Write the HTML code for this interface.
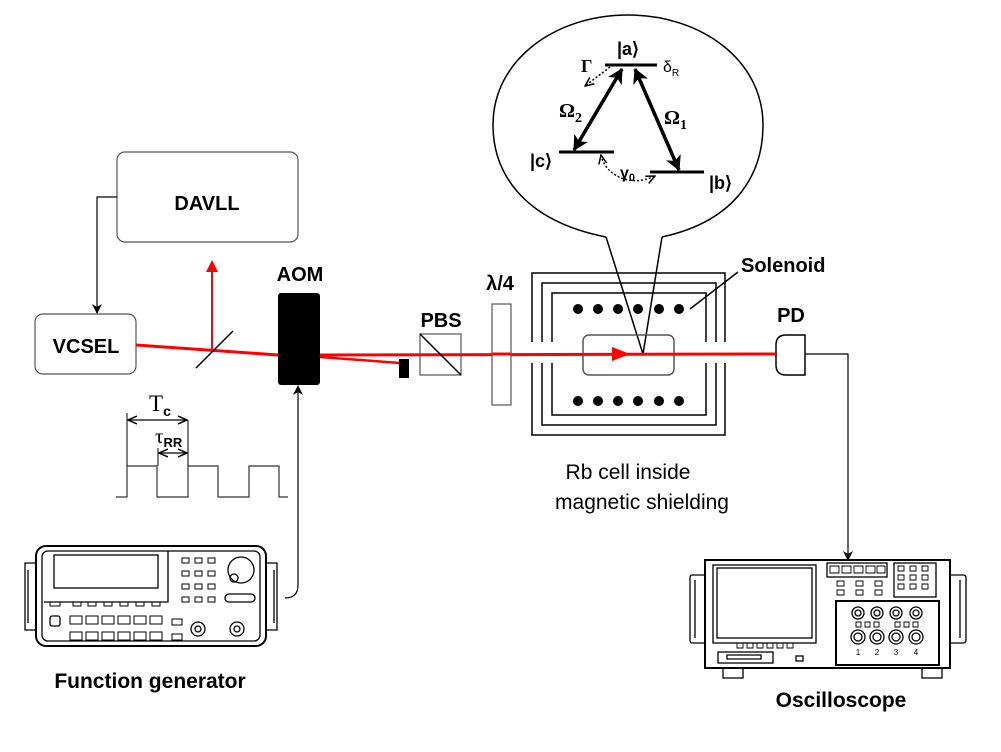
<!DOCTYPE html>
<html><head><meta charset="utf-8"><style>body{margin:0;background:#fff}svg{display:block}</style></head><body>
<svg width="1001" height="752" viewBox="0 0 1001 752" xmlns="http://www.w3.org/2000/svg" font-family="Liberation Sans, sans-serif">
<defs>
<marker id="ak" markerWidth="10" markerHeight="10" refX="9" refY="5" orient="auto" markerUnits="userSpaceOnUse"><path d="M0,0 L10,5 L0,10 L3,5z" fill="#000"/></marker>
<marker id="ar" markerWidth="12" markerHeight="12" refX="10" refY="6" orient="auto" markerUnits="userSpaceOnUse"><path d="M0,0 L12,6 L0,12z" fill="#f00"/></marker>
<marker id="ao" markerWidth="10" markerHeight="10" refX="9" refY="5" orient="auto-start-reverse" markerUnits="userSpaceOnUse"><path d="M0,1 L9,5 L0,9" fill="none" stroke="#000" stroke-width="1.5"/></marker>
<marker id="at" markerWidth="16" markerHeight="16" refX="14" refY="8" orient="auto-start-reverse" markerUnits="userSpaceOnUse"><path d="M0,0 L15,8 L0,16 L4,8z" fill="#000"/></marker>
</defs>
<!-- bubble -->
<path d="M606,237 C520,220 493,170 493,125 C493,60 555,15 628,15 C701,15 763,60 763,125 C763,170 740,220 662,237" fill="none" stroke="#000" stroke-width="1.5"/>
<path d="M606,237 L643,354 L662,237" fill="none" stroke="#000" stroke-width="1.5"/>
<!-- levels -->
<line x1="605" y1="65" x2="657" y2="65" stroke="#000" stroke-width="3"/>
<line x1="559" y1="152" x2="614" y2="152" stroke="#000" stroke-width="3"/>
<line x1="650" y1="172" x2="704" y2="172" stroke="#000" stroke-width="3"/>
<line x1="574" y1="150" x2="622" y2="69" stroke="#000" stroke-width="3.5" marker-start="url(#at)" marker-end="url(#at)"/>
<line x1="635" y1="69" x2="679" y2="170" stroke="#000" stroke-width="3.5" marker-start="url(#at)" marker-end="url(#at)"/>
<path d="M610,67 L585,86" stroke="#000" stroke-width="1.5" stroke-dasharray="2,2" fill="none" marker-end="url(#ao)"/>
<path d="M601,155 C605,175 630,188 655,176" stroke="#000" stroke-width="1.5" stroke-dasharray="2,2" fill="none" marker-start="url(#ao)" marker-end="url(#ao)"/>
<text x="617" y="55" font-size="18" font-weight="bold">|a⟩</text>
<text x="581" y="72" font-size="18" font-family="Liberation Serif, serif" font-weight="bold">Γ</text>
<text x="663" y="72" font-size="16">δ<tspan font-size="10" dy="4">R</tspan></text>
<text x="559" y="117" font-size="20" font-family="Liberation Serif, serif" font-weight="bold">Ω<tspan font-size="14" dy="5">2</tspan></text>
<text x="664" y="124" font-size="20" font-family="Liberation Serif, serif" font-weight="bold">Ω<tspan font-size="14" dy="5">1</tspan></text>
<text x="530" y="167" font-size="18" font-weight="bold">|c⟩</text>
<text x="709" y="189" font-size="18" font-weight="bold">|b⟩</text>
<text x="620" y="178" font-size="16" font-weight="bold">γ<tspan font-size="11" dy="3">0</tspan></text>
<!-- shielding -->
<g fill="none" stroke="#000" stroke-width="1.5">
<path d="M532,342 V273 H725 V342 M532,363 V435 H725 V363"/>
<path d="M542,342 V283 H716 V342 M542,363 V425 H716 V363"/>
<path d="M552,342 V293 H706 V342 M552,363 V415 H706 V363"/>
<rect x="583" y="335" width="91" height="40" rx="6" stroke="#555"/>
<line x1="690" y1="309" x2="738" y2="272"/>
</g>
<g fill="#000">
<circle cx="578" cy="309" r="5"/><circle cx="598" cy="309" r="5"/><circle cx="618" cy="309" r="5"/><circle cx="638" cy="309" r="5"/><circle cx="659" cy="309" r="5"/><circle cx="679" cy="309" r="5"/>
<circle cx="578" cy="401" r="5"/><circle cx="598" cy="401" r="5"/><circle cx="618" cy="401" r="5"/><circle cx="638" cy="401" r="5"/><circle cx="659" cy="401" r="5"/><circle cx="679" cy="401" r="5"/>
</g>
<text x="741" y="272" font-size="20" font-weight="bold">Solenoid</text>
<text x="628" y="479" font-size="21" text-anchor="middle">Rb cell inside</text>
<text x="642" y="509" font-size="21" text-anchor="middle">magnetic shielding</text>
<!-- left -->
<rect x="117" y="152" width="181" height="90" rx="8" fill="none" stroke="#555" stroke-width="1.2"/>
<text x="207" y="210" font-size="20" font-weight="bold" text-anchor="middle">DAVLL</text>
<rect x="35" y="314" width="101" height="60" rx="8" fill="none" stroke="#555" stroke-width="1.2"/>
<text x="86" y="353" font-size="20" font-weight="bold" text-anchor="middle">VCSEL</text>
<path d="M117,197 H97 V313" fill="none" stroke="#000" stroke-width="1.2" marker-end="url(#ak)"/>
<line x1="136" y1="345" x2="278" y2="355" stroke="#f00" stroke-width="3"/>
<line x1="212" y1="350" x2="212" y2="262" stroke="#f00" stroke-width="2" marker-end="url(#ar)"/>
<line x1="196" y1="368" x2="233" y2="331" stroke="#000" stroke-width="1.5"/>
<rect x="278" y="293" width="42" height="92" rx="3" fill="#000"/>
<text x="300" y="281" font-size="20" font-weight="bold" text-anchor="middle">AOM</text>
<line x1="320" y1="355" x2="775" y2="354" stroke="#f00" stroke-width="3"/>
<line x1="320" y1="357" x2="400" y2="363" stroke="#f00" stroke-width="2.5"/>
<path d="M612,347 L630,354 L612,361z" fill="#f00"/>
<rect x="399" y="359" width="10" height="19" fill="#000"/>
<rect x="420" y="334" width="41" height="41" fill="none" stroke="#555" stroke-width="1.2"/>
<line x1="420" y1="334" x2="461" y2="375" stroke="#000" stroke-width="1.5"/>
<text x="441" y="327" font-size="20" font-weight="bold" text-anchor="middle">PBS</text>
<rect x="492" y="304" width="19" height="101" fill="#fff" stroke="#555" stroke-width="1.2"/>
<line x1="492" y1="354" x2="511" y2="354" stroke="#f00" stroke-width="3"/>
<text x="500" y="290" font-size="20" font-weight="bold" text-anchor="middle">λ/4</text>
<path d="M786,335 H805 V375 H786 Q776,375 776,365 V345 Q776,335 786,335z" fill="#fff" stroke="#000" stroke-width="1.5"/>
<text x="791" y="322" font-size="20" font-weight="bold" text-anchor="middle">PD</text>
<path d="M805,354 H848 V560" fill="none" stroke="#000" stroke-width="1.2" marker-end="url(#ak)"/>
<!-- waveform -->
<path d="M116,497 H127 V466 H157 V497 H188 V466 H218 V497 H249 V466 H279 V497 H288" fill="none" stroke="#333" stroke-width="1.2"/>
<line x1="127" y1="466" x2="127" y2="413" stroke="#000" stroke-width="1"/>
<line x1="188" y1="466" x2="188" y2="420" stroke="#000" stroke-width="1"/>
<line x1="158" y1="466" x2="158" y2="448" stroke="#000" stroke-width="1"/>
<line x1="128" y1="420" x2="187" y2="420" stroke="#000" stroke-width="1.3" marker-start="url(#ao)" marker-end="url(#ao)"/>
<line x1="159" y1="453" x2="187" y2="453" stroke="#000" stroke-width="1.3" marker-start="url(#ao)" marker-end="url(#ao)"/>
<text x="149" y="411" font-size="23" font-family="Liberation Serif, serif">T<tspan font-size="14" font-family="Liberation Sans, sans-serif" font-weight="bold" dy="5">c</tspan></text>
<text x="155" y="443" font-size="21" font-family="Liberation Serif, serif">τ<tspan font-size="13" font-family="Liberation Sans, sans-serif" font-weight="bold" dy="4">RR</tspan></text>
<path d="M285,598 Q298,598 298,585 V386" fill="none" stroke="#000" stroke-width="1.2" marker-end="url(#ak)"/>
<!-- function generator -->
<g fill="none" stroke="#000" stroke-width="1.3">
<rect x="36" y="546" width="230" height="100" rx="10" stroke-width="2"/>
<rect x="42" y="551" width="218" height="90" rx="6"/>
<path d="M36,563 H25 V630 H36 M28,570 V623"/>
<path d="M266,563 H277 V630 H266 M274,570 V623"/>
<rect x="54" y="555" width="104" height="33"/>
<path d="M44,602 H168 V551"/>
<circle cx="241" cy="570" r="13"/><circle cx="234" cy="578" r="4"/>
<rect x="225" y="594" width="30" height="8" rx="4"/>
<circle cx="198" cy="629" r="7"/><circle cx="198" cy="629" r="3"/>
<circle cx="237" cy="629" r="7"/><circle cx="237" cy="629" r="3"/>
<rect x="50" y="616" width="10" height="10" rx="2"/>
</g>
<g fill="none" stroke="#000" stroke-width="1">
<path d="M182,558h7v5h-7z M195,558h7v5h-7z M208,558h7v5h-7z M182,571h7v5h-7z M195,571h7v5h-7z M208,571h7v5h-7z M182,584h7v5h-7z M195,584h7v5h-7z M208,584h7v5h-7z M182,597h7v5h-7z M195,597h7v5h-7z M208,597h7v5h-7z"/>
<path d="M50,602h10v4h-10z M73,602h8v4h-8z M88,602h8v4h-8z M104,602h8v4h-8z M120,602h8v4h-8z M136,602h8v4h-8z M152,602h8v4h-8z"/>
<path d="M70,616h12v8h-12z M86,616h12v8h-12z M102,616h12v8h-12z M118,616h12v8h-12z M134,616h12v8h-12z M150,616h12v8h-12z M70,632h12v8h-12z M86,632h12v8h-12z M102,632h12v8h-12z M118,632h12v8h-12z M134,632h12v8h-12z M150,632h12v8h-12z M172,619h10v6h-10z M172,634h10v6h-10z"/>
</g>
<text x="150" y="688" font-size="21" font-weight="bold" text-anchor="middle">Function generator</text>
<!-- oscilloscope -->
<g fill="none" stroke="#000" stroke-width="1.3">
<rect x="705" y="560" width="245" height="108" stroke-width="2"/>
<path d="M705,575 H692 Q690,575 690,578 V640 Q690,643 692,643 H705 M695,580 V638"/>
<path d="M950,575 H963 Q966,575 966,578 V640 Q966,643 963,643 H950 M960,580 V638"/>
<rect x="713" y="565" width="103" height="78"/>
<rect x="717" y="568" width="95" height="70"/>
<rect x="718" y="652" width="55" height="11"/>
<path d="M727,655h34v4h-34z"/>
<rect x="796" y="656" width="7" height="5"/>
<rect x="827" y="563" width="60" height="14"/>
<rect x="894" y="563" width="42" height="34"/>
<rect x="836" y="601" width="103" height="64" stroke-width="2"/>
<rect x="723" y="668" width="20" height="10"/><rect x="922" y="668" width="20" height="10"/>
<circle cx="858" cy="613" r="6"/><circle cx="858" cy="613" r="3"/>
<circle cx="877" cy="613" r="6"/><circle cx="877" cy="613" r="3"/>
<circle cx="896" cy="613" r="6"/><circle cx="896" cy="613" r="3"/>
<circle cx="916" cy="613" r="6"/><circle cx="916" cy="613" r="3"/>
<circle cx="858" cy="637" r="7"/><circle cx="858" cy="637" r="4"/>
<circle cx="877" cy="637" r="7"/><circle cx="877" cy="637" r="4"/>
<circle cx="896" cy="637" r="7"/><circle cx="896" cy="637" r="4"/>
<circle cx="916" cy="637" r="7"/><circle cx="916" cy="637" r="4"/>
</g>
<g fill="none" stroke="#000" stroke-width="0.9">
<path d="M830,566h9v7h-9z M842,566h9v7h-9z M854,566h9v7h-9z M866,566h9v7h-9z M877,566h8v7h-8z"/>
<path d="M837,581h7v5h-7z M856,581h7v5h-7z M875,581h7v5h-7z M837,590h7v5h-7z M856,590h7v5h-7z M875,590h7v5h-7z"/>
<path d="M898,566h6v5h-6z M910,566h6v5h-6z M922,566h6v5h-6z M898,575h6v5h-6z M910,575h6v5h-6z M922,575h6v5h-6z M898,584h6v5h-6z M910,584h6v5h-6z M922,584h6v5h-6z"/>
<path d="M737,643h6v5h-6z M747,643h6v5h-6z M757,643h6v5h-6z M767,643h6v5h-6z M777,643h6v5h-6z M787,643h6v5h-6z"/>
<path d="M856,622h5v5h-5z M865,622h5v5h-5z M874,622h5v5h-5z M895,622h5v5h-5z M904,622h5v5h-5z M913,622h5v5h-5z"/>
</g>
<g font-size="8" text-anchor="middle"><text x="858" y="655">1</text><text x="877" y="655">2</text><text x="896" y="655">3</text><text x="916" y="655">4</text></g>
<text x="841" y="707" font-size="21" font-weight="bold" text-anchor="middle">Oscilloscope</text>
</svg>
</body></html>
